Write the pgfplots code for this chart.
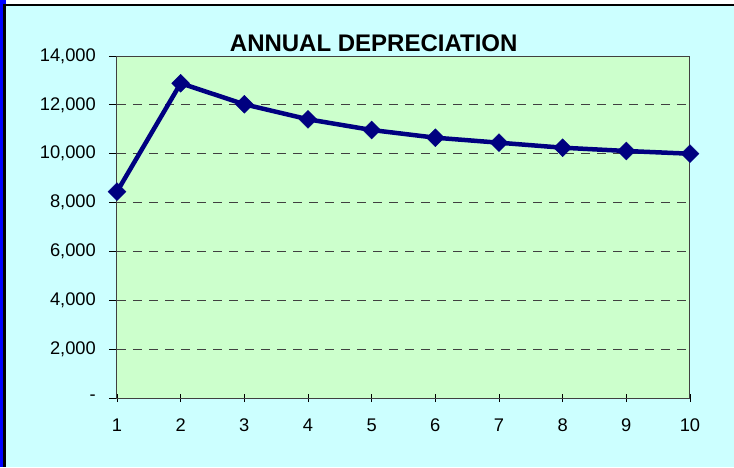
\documentclass[border=0pt]{standalone}
\usepackage{pgfplots}
\pgfplotsset{compat=1.18}
\usepackage{fontspec}
\setmainfont{Liberation Sans}
\definecolor{navyline}{RGB}{0,0,128}
\definecolor{bgcyan}{RGB}{204,255,255}
\definecolor{plotgreen}{RGB}{204,255,204}
\definecolor{gridgray}{RGB}{64,64,64}
\begin{document}
\begin{tikzpicture}[x=1pt,y=1pt]
\useasboundingbox (0,0) rectangle (734,467);
\fill[white] (0,0) rectangle (734,467);
\fill[bgcyan] (5.5,0) rectangle (734,461);
\fill[blue] (0,0) rectangle (2.8,467);
\fill[blue] (0,463) rectangle (6,467);
\fill[black] (2.8,0) rectangle (5.7,463);
\fill[black] (2.8,460.5) rectangle (734,463);
\node[anchor=base, inner sep=0pt, font=\fontsize{24}{28}\selectfont\bfseries] at (373.7,415.3) {ANNUAL DEPRECIATION};
\begin{axis}[
  at={(117pt,69pt)}, anchor=south west,
  scale only axis, width=573pt, height=342pt,
  xmin=1, xmax=10, ymin=0, ymax=14000,
  xtick={1,...,10},
  xticklabels={1,2,3,4,5,6,7,8,9,10},
  ytick={0,2000,4000,6000,8000,10000,12000,14000},
  yticklabels={-,{2,000},{4,000},{6,000},{8,000},{10,000},{12,000},{14,000}},
  scaled y ticks=false,
  tick label style={font=\fontsize{18.3}{22}\selectfont, text=black},
  xticklabel style={inner sep=0pt, anchor=north, yshift=-17pt},
  yticklabel style={inner sep=0pt, anchor=east, xshift=-13pt},
  xtick align=center, ytick align=outside,
  major tick length=8pt,
  tick style={black, line width=0.8pt},
  xtick pos=bottom, ytick pos=left,
  axis line style={draw=gridgray, line width=1pt},
  axis background/.style={fill=plotgreen},
  ymajorgrids,
  grid style={gridgray, line width=0.9pt, dash pattern=on 9pt off 7pt},
  clip=false,
]
\addplot[color=navyline, line width=4.5pt, mark=square*, mark size=6.3pt,
  mark options={rotate=45, fill=navyline, draw=navyline, line width=0.5pt, solid}]
  coordinates {
  (1,8445) (2,12883) (3,12023) (4,11409) (5,10971)
  (6,10656) (7,10451) (8,10246) (9,10111) (10,10000)
  };
\end{axis}
\end{tikzpicture}
\end{document}
